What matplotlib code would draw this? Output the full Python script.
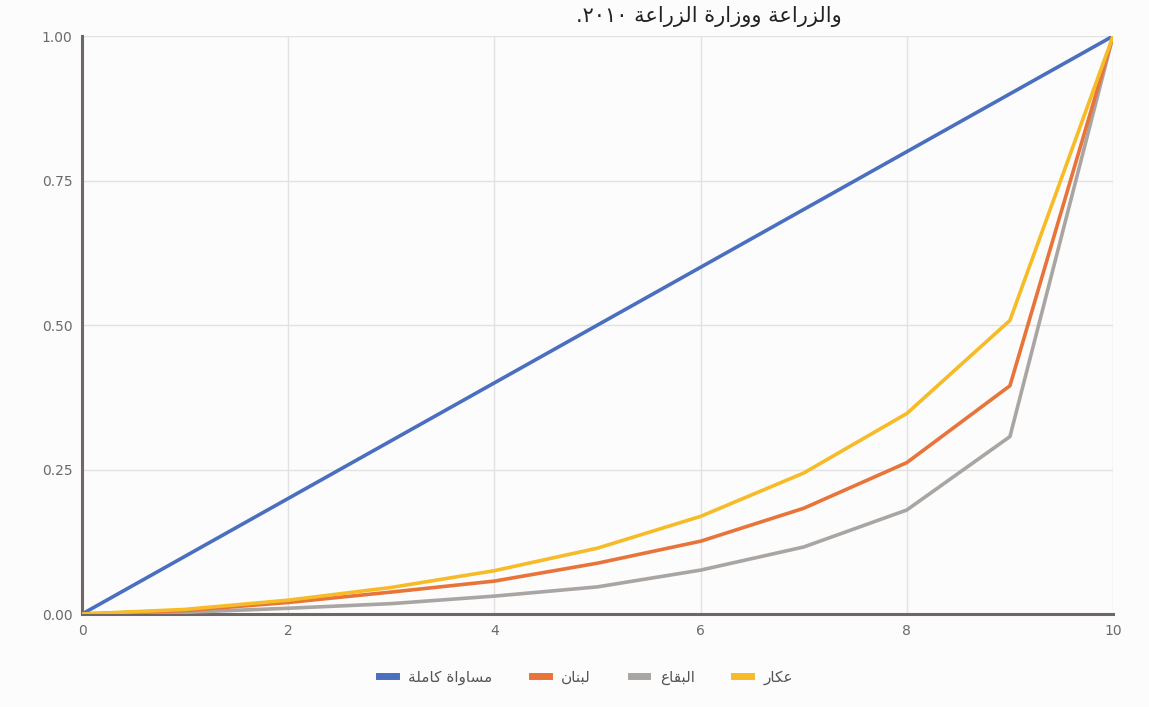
import matplotlib
matplotlib.use("Agg")
import matplotlib.pyplot as plt
from matplotlib.lines import Line2D

# deciles of households and cumulative share of income
deciles = [0, 1, 2, 3, 4, 5, 6, 7, 8, 9, 10]
equality = [0.0, 0.1, 0.2, 0.3, 0.4, 0.5, 0.6, 0.7, 0.8, 0.9, 1.0]
lebanon = [0.0, 0.006, 0.02, 0.038, 0.057, 0.088, 0.126, 0.183, 0.262, 0.395, 1.0]
bekaa = [0.0, 0.003, 0.01, 0.018, 0.031, 0.047, 0.076, 0.116, 0.18, 0.307, 1.0]
akkar = [0.0, 0.008, 0.024, 0.046, 0.075, 0.114, 0.169, 0.244, 0.347, 0.508, 1.0]

x_ticks = [0, 2, 4, 6, 8, 10]
y_ticks = [0.0, 0.25, 0.5, 0.75, 1.0]

# presentation forms: isolated, final, initial, medial
FORMS = {
    'ا': (0xFE8D, 0xFE8E), 'ب': (0xFE8F, 0xFE90, 0xFE91, 0xFE92),
    'ة': (0xFE93, 0xFE94), 'ت': (0xFE95, 0xFE96, 0xFE97, 0xFE98),
    'د': (0xFEA9, 0xFEAA), 'ر': (0xFEAD, 0xFEAE), 'ز': (0xFEAF, 0xFEB0),
    'س': (0xFEB1, 0xFEB2, 0xFEB3, 0xFEB4), 'ع': (0xFEC9, 0xFECA, 0xFECB, 0xFECC),
    'ق': (0xFED5, 0xFED6, 0xFED7, 0xFED8), 'ك': (0xFED9, 0xFEDA, 0xFEDB, 0xFEDC),
    'ل': (0xFEDD, 0xFEDE, 0xFEDF, 0xFEE0), 'م': (0xFEE1, 0xFEE2, 0xFEE3, 0xFEE4),
    'ن': (0xFEE5, 0xFEE6, 0xFEE7, 0xFEE8), 'و': (0xFEED, 0xFEEE),
    'ي': (0xFEF1, 0xFEF2, 0xFEF3, 0xFEF4),
}


def shape(text):
    """join arabic letters and lay them out right to left"""
    out = []
    for i, ch in enumerate(text):
        f = FORMS.get(ch)
        if f is None:
            out.append(ch)
            continue
        prev = text[i - 1] if i > 0 else ''
        nxt = text[i + 1] if i + 1 < len(text) else ''
        joins_prev = prev in FORMS and len(FORMS[prev]) == 4
        joins_next = len(f) == 4 and nxt in FORMS
        if joins_prev and joins_next:
            out.append(chr(f[3]))
        elif joins_prev:
            out.append(chr(f[1]))
        elif joins_next:
            out.append(chr(f[2]))
        else:
            out.append(chr(f[0]))
    return ''.join(reversed(out))


fig = plt.figure(figsize=(11.49, 7.07), dpi=100)
fig.patch.set_facecolor('#fcfcfc')
ax = fig.add_axes([0.0714, 0.1315, 0.8973, 0.8175])
ax.set_facecolor('#fcfcfc')

ax.plot(deciles, equality, color='#4a6fbe', lw=2.6, solid_capstyle='round', zorder=3)
ax.plot(deciles, bekaa, color='#a9a5a3', lw=2.6, zorder=3)
ax.plot(deciles, lebanon, color='#e8743a', lw=2.6, zorder=4)
ax.plot(deciles, akkar, color='#f6bb27', lw=2.6, zorder=5)

ax.set_xlim(0, 10)
ax.set_ylim(0, 1)
ax.set_xticks(x_ticks)
ax.set_yticks(y_ticks)
ax.set_yticklabels(['%.2f' % v for v in y_ticks])
ax.grid(True, color='#e2e2e2', lw=1.0)
ax.set_axisbelow(True)
for s in ['top', 'right']:
    ax.spines[s].set_visible(False)
for s in ['left', 'bottom']:
    ax.spines[s].set_color('#6e6766')
    ax.spines[s].set_linewidth(2.2)
ax.tick_params(length=0, pad=7, labelsize=10, labelcolor='#6a6a6a')

handles = [
    Line2D([], [], color='#4a6fbe', lw=5),
    Line2D([], [], color='#e8743a', lw=5),
    Line2D([], [], color='#a9a5a3', lw=5),
    Line2D([], [], color='#f6bb27', lw=5),
]
labels = [shape('مساواة كاملة'), shape('لبنان'), shape('البقاع'), shape('عكار')]
fig.legend(handles, labels, loc='center', bbox_to_anchor=(0.51, 0.042), ncol=4,
           frameon=False, fontsize=11, handlelength=1.1, columnspacing=2.6,
           handletextpad=0.8, labelcolor='#555555')

title = '.' + '٢٠١٠' + ' ' + shape('والزراعة ووزارة الزراعة')
fig.text(0.617, 0.976, title, ha='center', va='center', fontsize=15, color='#222222')

fig.savefig('out.png', dpi=100, facecolor=fig.get_facecolor())
